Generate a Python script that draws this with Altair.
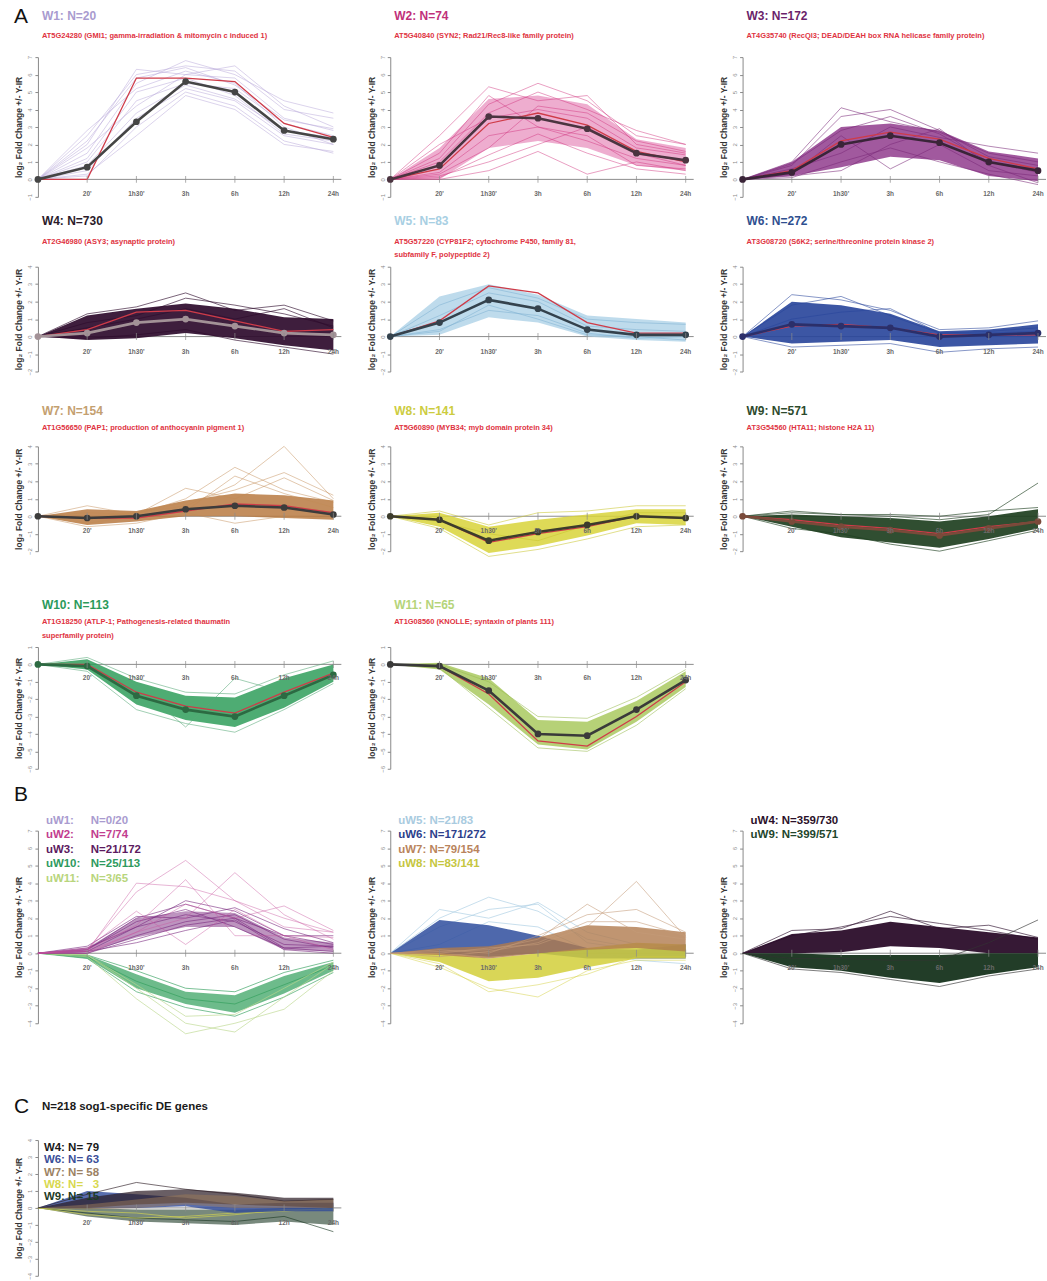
import altair as alt
import pandas as pd

TIMES = ["0", "20'", "1h30'", "3h", "6h", "12h", "24h"]
TICK_LABELS = ["20'", "1h30'", "3h", "6h", "12h", "24h"]
YTITLE = "log\u2082 Fold Change +/- Y-IR"

# ---------------- Panel A data (log2 fold change at each time point) ----------------
W1_MEAN = [0, 0.7, 3.3, 5.6, 5.0, 2.8, 2.3]
W1_GENE = [0, 0.0, 5.8, 5.8, 5.6, 3.2, 2.4]
W1_LINES = [
    [0, 2.5, 6.0, 6.5, 6.2, 4.0, 3.5],
    [0, 2.0, 6.3, 6.0, 5.8, 3.5, 2.8],
    [0, 1.5, 5.5, 6.8, 6.0, 4.5, 3.8],
    [0, 1.0, 4.5, 5.5, 5.2, 3.2, 2.5],
    [0, 0.5, 3.5, 5.2, 4.5, 2.5, 2.0],
    [0, 0.2, 3.0, 5.0, 4.2, 2.2, 1.5],
    [0, 1.2, 5.0, 5.8, 4.8, 2.6, 2.2],
    [0, 2.8, 5.2, 6.2, 5.5, 3.0, 2.0],
    [0, 0.3, 2.5, 4.8, 4.0, 2.0, 1.6],
    [0, 1.8, 4.2, 6.0, 6.5, 4.2, 3.0],
    [0, 0.8, 3.8, 5.4, 4.6, 2.8, 2.4],
    [0, 2.2, 5.8, 6.4, 5.4, 3.4, 2.9],
]

W2_MEAN = [0, 0.8, 3.6, 3.5, 2.9, 1.5, 1.1]
W2_GENE = [0, 0.6, 3.2, 3.8, 3.1, 1.6, 1.0]
W2_LO = [0, 0.0, 1.8, 2.2, 1.8, 0.8, 0.5]
W2_HI = [0, 1.8, 4.6, 4.8, 4.3, 2.3, 1.8]
W2_LINES = [
    [0, 2.5, 5.3, 4.5, 4.8, 2.0, 1.5],
    [0, 1.2, 4.3, 5.5, 4.5, 2.5, 2.0],
    [0, 0.2, 1.0, 2.0, 3.0, 1.5, 0.8],
    [0, 0.0, 0.5, 1.6, 0.3, 1.0, 0.5],
    [0, 0.3, 1.8, 4.2, 3.8, 2.2, 1.6],
    [0, 1.5, 4.8, 3.0, 2.2, 1.2, 0.8],
    [0, 0.4, 2.5, 3.0, 2.5, 0.8, 0.6],
    [0, 2.0, 3.5, 4.0, 3.5, 1.8, 1.4],
    [0, 0.1, 1.4, 2.6, 1.5, 0.6, 0.3],
    [0, 1.0, 3.8, 5.0, 4.0, 2.8, 2.0],
]

W3_MEAN = [0, 0.4, 2.0, 2.5, 2.1, 1.0, 0.5]
W3_GENE = [0, 0.5, 2.2, 2.7, 2.3, 1.2, 0.6]
W3_LO = [0, 0.2, 0.7, 1.3, 1.1, 0.2, -0.1]
W3_HI = [0, 1.0, 3.0, 3.2, 2.8, 1.6, 1.2]
W3_LINES = [
    [0, 1.0, 4.1, 3.3, 2.7, 1.5, 1.0],
    [0, 0.8, 3.6, 4.0, 2.8, 1.3, 0.8],
    [0, 0.3, 2.5, 0.6, 2.0, 0.5, 0.2],
    [0, 0.2, 0.5, 2.0, 2.9, 0.8, -0.2],
    [0, 0.6, 1.5, 3.0, 2.4, 1.9, 1.5],
    [0, 0.1, 1.0, 1.8, 1.0, 0.3, -0.3],
    [0, 0.9, 2.8, 3.6, 2.6, 1.0, 0.4],
]

W4_MEAN = [0, 0.2, 0.8, 1.0, 0.6, 0.2, 0.1]
W4_GENE = [0, 0.4, 1.4, 1.5, 0.9, 0.3, 0.4]
W4_LO = [0, -0.2, -0.1, 0.2, -0.1, -0.5, -0.8]
W4_HI = [0, 1.2, 1.6, 1.9, 1.6, 1.1, 1.0]
W4_LINES = [
    [0, 1.3, 1.7, 2.5, 1.5, 1.8, 0.9],
    [0, 0.8, 1.2, 2.2, 1.8, 1.3, 0.6],
    [0, -0.1, 0.1, 0.4, -0.2, -0.6, -1.0],
    [0, 0.5, 1.0, 1.6, 1.0, 1.6, 0.5],
]

W5_MEAN = [0, 0.8, 2.1, 1.6, 0.4, 0.1, 0.1]
W5_GENE = [0, 0.9, 2.9, 2.5, 0.8, 0.2, 0.2]
W5_LO = [0, 0.1, 1.1, 0.8, 0.0, -0.2, -0.3]
W5_HI = [0, 2.3, 3.0, 2.4, 1.2, 1.0, 0.8]
W5_LINES = [
    [0, 1.8, 2.8, 2.2, 1.0, 0.8, 0.7],
    [0, 0.4, 1.5, 1.2, 0.2, -0.1, 0.0],
    [0, 1.2, 2.5, 2.0, 0.6, 0.4, 0.3],
    [0, 0.3, 1.8, 1.0, 0.1, 0.0, -0.2],
]

W6_MEAN = [0, 0.7, 0.6, 0.5, 0.0, 0.1, 0.2]
W6_GENE = [0, 0.6, 0.7, 0.5, 0.1, 0.1, 0.1]
W6_LO = [0, -0.4, -0.3, -0.2, -0.6, -0.5, -0.4]
W6_HI = [0, 2.0, 1.8, 1.3, 0.3, 0.4, 0.7]
W6_LINES = [
    [0, 2.4, 2.1, 1.5, 0.4, 0.5, 0.9],
    [0, 1.8, 2.3, 1.2, 0.2, 0.3, 0.5],
    [0, -0.6, -0.5, -0.4, -0.9, -0.7, -0.6],
    [0, 1.0, 1.4, 1.6, 0.2, 0.2, 0.3],
]

W7_MEAN = [0, -0.1, 0.0, 0.4, 0.6, 0.5, 0.1]
W7_GENE = [0, -0.1, -0.1, 0.3, 0.7, 0.6, 0.2]
W7_LO = [0, -0.5, -0.3, 0.0, 0.0, -0.1, -0.2]
W7_HI = [0, 0.4, 0.3, 0.9, 1.3, 1.2, 0.9]
W7_LINES = [
    [0, 0.2, 0.1, 1.0, 2.8, 1.5, 0.8],
    [0, -0.1, 0.2, 0.6, 1.8, 4.0, 1.0],
    [0, 0.6, 0.1, 1.6, 1.0, 2.2, 0.9],
    [0, -0.4, 0.0, 0.3, 2.3, 1.3, 0.5],
    [0, -0.6, -0.4, 0.2, -0.4, 0.0, -0.1],
    [0, 0.0, 0.2, 0.8, 1.5, 2.5, 1.2],
]

W8_MEAN = [0, -0.2, -1.4, -0.9, -0.5, 0.0, -0.1]
W8_GENE = [0, -0.2, -1.5, -1.0, -0.6, 0.0, -0.1]
W8_LO = [0, -0.6, -2.1, -1.7, -1.1, -0.4, -0.5]
W8_HI = [0, 0.2, -0.6, -0.2, 0.1, 0.4, 0.4]
W8_LINES = [
    [0, 0.3, -0.5, 0.2, 0.3, 0.6, 0.6],
    [0, -0.7, -2.3, -1.9, -1.3, -0.6, -0.5],
    [0, -0.3, -1.0, -1.4, -0.5, 0.2, 0.2],
]

W9_MEAN = [0, -0.3, -0.6, -0.8, -1.1, -0.7, -0.3]
W9_GENE = [0, -0.2, -0.5, -0.7, -1.0, -0.6, -0.3]
W9_LO = [0, -0.6, -1.2, -1.5, -1.8, -1.3, -0.7]
W9_HI = [0, 0.1, 0.0, -0.1, -0.3, 0.0, 0.4]
W9_LINES = [
    [0, 0.3, 0.1, 0.0, -0.2, 0.1, 1.9],
    [0, -0.7, -1.0, -1.6, -2.0, -1.4, -0.8],
    [0, 0.2, 0.1, 0.1, 0.0, 0.3, 0.5],
]

W10_MEAN = [0, -0.1, -1.8, -2.6, -3.0, -1.8, -0.6]
W10_GENE = [0, 0.0, -1.6, -2.4, -2.8, -1.6, -0.5]
W10_LO = [0, -0.3, -2.3, -3.2, -3.6, -2.5, -1.0]
W10_HI = [0, 0.3, -1.0, -1.8, -1.9, -0.8, 0.0]
W10_LINES = [
    [0, 0.0, -1.2, -3.6, -0.8, -1.6, -0.4],
    [0, 0.4, -0.8, -1.6, -1.7, -0.6, 0.2],
    [0, -0.4, -2.6, -3.4, -3.9, -2.6, -1.1],
]

W11_MEAN = [0, -0.1, -1.5, -4.0, -4.1, -2.6, -0.9]
W11_GENE = [0, -0.1, -1.7, -4.4, -4.7, -3.0, -1.0]
W11_LO = [0, -0.3, -2.3, -4.6, -4.9, -3.3, -1.3]
W11_HI = [0, 0.1, -0.8, -3.2, -3.3, -2.1, -0.4]
W11_LINES = [
    [0, 0.0, -1.0, -3.0, -3.1, -1.9, -0.3],
    [0, -0.2, -2.5, -4.8, -5.0, -3.5, -1.4],
]

# ---------------- Panel B data ----------------
UW2_LINES = [
    [0, 0.2, 3.5, 5.3, 3.0, 2.0, 1.2],
    [0, 0.0, 1.2, 2.0, 4.6, 2.2, 0.8],
    [0, 0.1, 4.0, 3.8, 3.0, 1.5, 1.2],
    [0, 0.3, 2.4, 0.5, 2.5, 1.0, 0.2],
    [0, 0.1, 1.2, 2.8, 2.0, 2.7, 1.3],
    [0, 0.2, 1.6, 4.2, 1.0, 1.0, 0.9],
]
UW3_LO = [0, 0.05, 0.9, 1.5, 1.5, 0.2, 0.1]
UW3_HI = [0, 0.3, 2.0, 2.4, 2.3, 0.9, 0.6]
UW3_LINES = [
    [0, 0.3, 1.5, 3.0, 2.4, 1.0, 1.0],
    [0, 0.2, 2.0, 2.8, 2.0, 0.3, 0.4],
    [0, 0.0, 1.0, 1.8, 2.2, 0.8, 0.3],
    [0, 0.1, 1.5, 2.2, 1.8, 0.5, 0.4],
    [0, 0.0, 0.8, 1.6, 2.0, 1.0, 0.5],
    [0, 0.2, 1.8, 2.5, 1.5, 0.3, 0.1],
    [0, 0.4, 2.1, 2.0, 2.6, 1.4, 0.6],
    [0, 0.1, 0.6, 1.3, 1.9, 0.2, 0.0],
]
UW10_LO = [0, -0.3, -2.0, -2.9, -3.4, -2.3, -1.0]
UW10_HI = [0, -0.1, -1.2, -2.2, -2.4, -1.3, -0.5]
UW10_LINES = [
    [0, -0.1, -1.0, -2.0, -2.2, -1.1, -0.4],
    [0, -0.3, -2.2, -3.1, -3.6, -2.5, -1.1],
    [0, -0.2, -1.6, -2.6, -2.9, -1.8, -0.7],
]
UW11_LINES = [
    [0, -0.1, -2.0, -4.0, -4.5, -2.5, -0.6],
    [0, -0.1, -1.8, -3.6, -3.5, -2.0, -0.5],
    [0, -0.2, -2.6, -4.6, -4.0, -3.2, -1.0],
]

UW5_LINES = [
    [0, 2.5, 2.0, 2.9, 1.2, 0.5, 0.4],
    [0, 2.0, 3.2, 2.4, 0.8, 0.3, 0.2],
    [0, 1.5, 2.5, 2.8, 0.6, 0.2, 0.5],
    [0, 0.5, 1.8, 1.5, 0.2, -0.4, -0.6],
]
UW6_LO = [0, 0.0, -0.2, 0.0, -0.3, -0.3, -0.3]
UW6_HI = [0, 1.9, 1.6, 1.0, 0.3, 0.2, 0.5]
UW7_LO = [0, -0.1, -0.3, 0.0, 0.2, 0.3, 0.1]
UW7_HI = [0, 0.3, 0.4, 0.9, 1.6, 1.5, 1.2]
UW7_LINES = [
    [0, 0.1, 0.2, 0.8, 2.8, 1.2, 0.8],
    [0, 0.0, 0.3, 0.5, 1.5, 4.1, 0.9],
    [0, 0.2, 0.0, 1.0, 2.2, 2.5, 1.2],
    [0, -0.2, 0.1, 0.6, 1.8, 1.8, 1.0],
]
UW8_LO = [0, -0.5, -1.6, -1.4, -0.8, -0.3, -0.3]
UW8_HI = [0, 0.0, -0.3, 0.0, 0.3, 0.6, 0.5]
UW8_LINES = [
    [0, -0.8, -2.0, -2.5, -1.0, -0.4, -0.4],
    [0, -0.6, -2.2, -1.8, -1.2, -0.2, -0.2],
]

UW4_LO = [0, 0.0, 0.05, 0.4, 0.3, 0.0, 0.0]
UW4_HI = [0, 1.1, 1.3, 1.8, 1.5, 1.2, 0.9]
UW4_LINES = [
    [0, 1.3, 1.4, 2.4, 1.4, 1.6, 0.9],
    [0, 1.0, 1.5, 2.1, 1.7, 1.3, 0.8],
]
UW9_LO = [0, -0.8, -1.0, -1.4, -1.7, -1.2, -0.8]
UW9_HI = [0, 0.0, -0.1, -0.1, -0.1, 0.0, 0.0]
UW9_LINES = [
    [0, -0.9, -1.1, -1.5, -1.9, -1.3, -0.9],
    [0, -0.3, -0.3, -0.4, -0.4, 0.6, 1.9],
]

# ---------------- Panel C data ----------------
C6_LO = [0, 0.0, 0.0, 0.1, -0.3, -0.2, -0.2]
C6_HI = [0, 1.0, 0.8, 0.6, 0.2, 0.3, 0.3]
C4_LO = [0, 0.0, 0.2, 0.3, 0.2, 0.1, 0.0]
C4_HI = [0, 0.6, 1.0, 1.1, 0.9, 0.6, 0.6]
C4_LINES = [[0, 0.8, 1.5, 1.1, 0.8, 0.4, 0.5]]
C7_LO = [0, -0.1, 0.0, 0.2, 0.0, 0.0, 0.0]
C7_HI = [0, 0.2, 0.5, 0.8, 0.7, 0.4, 0.5]
C8_LINES = [
    [0, -0.4, -0.6, -0.5, -0.3, -0.2, 0.0],
    [0, -0.2, -0.3, -0.6, -0.4, -0.1, -0.1],
]
C9_LO = [0, -0.5, -0.8, -0.9, -1.0, -0.8, -1.0]
C9_HI = [0, 0.0, -0.1, -0.1, -0.1, 0.0, 0.0]
C9_LINES = [[0, -0.3, -0.6, -0.7, -0.8, -0.5, -1.4]]

RED = "#cf3b48"
GENE_RED = "#e0333f"
PW = 296
ONE = pd.DataFrame({"a": [0]})


def lines_frame(lines):
    rows = []
    for i, vals in enumerate(lines):
        for t, v in zip(TIMES, vals):
            rows.append({"t": t, "v": v, "id": "l%d" % i})
    return pd.DataFrame(rows)


def band_frame(lo, hi):
    return pd.DataFrame({"t": TIMES, "lo": lo, "hi": hi})


def xenc():
    return alt.X("t:N", scale=alt.Scale(type="point", domain=TIMES, padding=0), axis=None)


def yenc(field, domain):
    return alt.Y(
        field + ":Q",
        scale=alt.Scale(domain=domain, nice=False, zero=False),
        axis=alt.Axis(
            values=list(range(domain[0], domain[1] + 1)),
            labelAngle=270, labelAlign="center", labelBaseline="bottom",
            labelFontSize=6, labelColor="#8a8a8a", labelPadding=2, labelFlush=False,
            tickSize=3, tickColor="#8a8a8a", domainColor="#8a8a8a", grid=False,
            title=YTITLE, titleFontSize=8.5, titleFontWeight="bold",
            titleColor="#333333", titlePadding=3,
        ),
    )


def txt(text, x, y, size, color, weight="bold", baseline="middle"):
    return alt.Chart(ONE).mark_text(
        text=text, align="left", baseline=baseline, fontSize=size,
        fontWeight=weight, color=color).encode(x=alt.value(x), y=alt.value(y))


def panel(domain, height, groups, mean=None, gene=None, mean_color="#3b3b3b",
          title=None, subtitle=None, title_color="#000000", title_y=-41, sub_y=-21,
          title_fs=12, legend=None, legend_x=8, legend_y=-10, legend_step=14.5,
          legend_fs=11.5, value_x=None, letter=None, letter_y=-34, tick_dy=15):
    X = xenc()
    layers = [
        alt.Chart(pd.DataFrame({"v": [0]})).mark_rule(color="#8c8c8c", strokeWidth=1).encode(
            x=alt.value(0), x2=alt.value(PW + 8), y=yenc("v", domain))
    ]
    for g in groups:
        if "lo" in g:
            layers.append(
                alt.Chart(band_frame(g["lo"], g["hi"])).mark_area(
                    color=g["color"], opacity=g.get("band_op", 0.8)).encode(
                    x=X, y=yenc("lo", domain), y2=alt.Y2("hi:Q")))
        if "lines" in g:
            layers.append(
                alt.Chart(lines_frame(g["lines"])).mark_line(
                    color=g.get("line_color", g["color"]), strokeWidth=g.get("lw", 0.8),
                    opacity=g.get("op", 0.7)).encode(
                    x=X, y=yenc("v", domain), detail="id:N"))
    if gene is not None:
        layers.append(alt.Chart(lines_frame([gene])).mark_line(color=RED, strokeWidth=1.3).encode(
            x=X, y=yenc("v", domain)))
    if mean is not None:
        mdf = lines_frame([mean])
        layers.append(alt.Chart(mdf).mark_line(color=mean_color, strokeWidth=2.6).encode(
            x=X, y=yenc("v", domain)))
        layers.append(alt.Chart(mdf).mark_circle(color=mean_color, size=45, opacity=1).encode(
            x=X, y=yenc("v", domain)))
    tdf = pd.DataFrame({"t": TICK_LABELS, "v": [0] * len(TICK_LABELS)})
    layers.append(alt.Chart(tdf).mark_tick(orient="vertical", size=7, thickness=1, color="#8c8c8c").encode(
        x=X, y=yenc("v", domain)))
    layers.append(alt.Chart(tdf).mark_text(dy=tick_dy, fontSize=6.5, fontWeight="bold", color="#6a6a6a").encode(
        x=X, y=yenc("v", domain), text="t:N"))
    if legend:
        for i, entry in enumerate(legend):
            yy = legend_y + i * legend_step
            if value_x is not None:
                lab, val, col = entry
                layers.append(txt(lab, legend_x, yy, legend_fs, col))
                layers.append(txt(val, value_x, yy, legend_fs, col))
            else:
                lab, col = entry
                layers.append(txt(lab, legend_x, yy, legend_fs, col))
    if title is not None:
        layers.append(txt(title, 4, title_y, title_fs, title_color))
    if subtitle:
        for i, s in enumerate(subtitle):
            layers.append(txt(s, 4, sub_y + i * 13.5, 7.5, GENE_RED))
    if letter:
        layers.append(txt(letter, -24, letter_y, 21, "#111111", weight="normal", baseline="alphabetic"))
    return alt.layer(*layers).properties(width=PW, height=height)


D1, H1 = [-1, 7], 140
D2, H2 = [-2, 4], 105
D3, H3 = [-2, 4], 105
D4, H4 = [-6, 1], 122
DB, HB = [-4, 7], 193
DC, HC = [-4, 4], 136

R1 = dict(title_y=-41, sub_y=-21)
R2 = dict(title_y=-46, sub_y=-25)
R3 = dict(title_y=-35, sub_y=-18)
R4 = dict(title_y=-42, sub_y=-25, tick_dy=14)

w1 = panel(D1, H1, [dict(color="#b4a3d6", lines=W1_LINES, op=0.6)], W1_MEAN, W1_GENE, "#454545",
           "W1: N=20", ["AT5G24280 (GMI1; gamma-irradiation & mitomycin c induced 1)"], "#a99bcf",
           letter="A", letter_y=-34, **R1)
w2 = panel(D1, H1, [dict(color="#e06aa8", lo=W2_LO, hi=W2_HI, band_op=0.55, lines=W2_LINES, line_color="#d1357f", op=0.6)],
           W2_MEAN, W2_GENE, "#4b3440",
           "W2: N=74", ["AT5G40840 (SYN2; Rad21/Rec8-like family protein)"], "#c0307a", **R1)
w3 = panel(D1, H1, [dict(color="#8a2f86", lo=W3_LO, hi=W3_HI, band_op=0.8, lines=W3_LINES, line_color="#7a2a78", op=0.7)],
           W3_MEAN, W3_GENE, "#3a2438",
           "W3: N=172", ["AT4G35740 (RecQl3; DEAD/DEAH box RNA helicase family protein)"], "#6b1f6b", **R1)

w4 = panel(D2, H2, [dict(color="#2e0b2c", lo=W4_LO, hi=W4_HI, band_op=0.92, lines=W4_LINES, op=0.8)],
           W4_MEAN, W4_GENE, "#a39297",
           "W4: N=730", ["AT2G46980 (ASY3; asynaptic protein)"], "#2a1a2a", **R2)
w5 = panel(D2, H2, [dict(color="#a8cfe5", lo=W5_LO, hi=W5_HI, band_op=0.75, lines=W5_LINES, line_color="#7fb2d3", op=0.7)],
           W5_MEAN, W5_GENE, "#34424d",
           "W5: N=83", ["AT5G57220 (CYP81F2; cytochrome P450, family 81,", "subfamily F, polypeptide 2)"],
           "#a8cfe3", **R2)
w6 = panel(D2, H2, [dict(color="#27449a", lo=W6_LO, hi=W6_HI, band_op=0.9, lines=W6_LINES, op=0.7)],
           W6_MEAN, W6_GENE, "#2b2f6a",
           "W6: N=272", ["AT3G08720 (S6K2; serine/threonine protein kinase 2)"], "#2f4f8f", **R2)

w7 = panel(D3, H3, [dict(color="#b97a42", lo=W7_LO, hi=W7_HI, band_op=0.85, lines=W7_LINES, line_color="#c28b55", op=0.6)],
           W7_MEAN, W7_GENE, "#3c3c3c",
           "W7: N=154", ["AT1G56650 (PAP1; production of anthocyanin pigment 1)"], "#c4a070", **R3)
w8 = panel(D3, H3, [dict(color="#d8d43a", lo=W8_LO, hi=W8_HI, band_op=0.85, lines=W8_LINES, line_color="#c9c530", op=0.7)],
           W8_MEAN, W8_GENE, "#3c3c2c",
           "W8: N=141", ["AT5G60890 (MYB34; myb domain protein 34)"], "#cccc40", **R3)
w9 = panel(D3, H3, [dict(color="#1e3f20", lo=W9_LO, hi=W9_HI, band_op=0.92, lines=W9_LINES, op=0.8)],
           W9_MEAN, W9_GENE, "#7a4a3a",
           "W9: N=571", ["AT3G54560 (HTA11; histone H2A 11)"], "#2d4a2d", **R3)

w10 = panel(D4, H4, [dict(color="#2f9e5a", lo=W10_LO, hi=W10_HI, band_op=0.85, lines=W10_LINES, line_color="#58a878", op=0.7)],
            W10_MEAN, W10_GENE, "#2c6a42",
            "W10: N=113", ["AT1G18250 (ATLP-1; Pathogenesis-related thaumatin", "superfamily protein)"],
            "#2a9a5a", **R4)
w11 = panel(D4, H4, [dict(color="#a9c95f", lo=W11_LO, hi=W11_HI, band_op=0.85, lines=W11_LINES, line_color="#98ba50", op=0.7)],
            W11_MEAN, W11_GENE, "#3a3a3a",
            "W11: N=65", ["AT1G08560 (KNOLLE; syntaxin of plants 111)"], "#b5d47a", **R4)

b1 = panel(DB, HB, [
    dict(color="#2f9e5a", lo=UW10_LO, hi=UW10_HI, band_op=0.7, lines=UW10_LINES, op=0.8),
    dict(color="#bcd88e", lines=UW11_LINES, op=0.8),
    dict(color="#7b2a80", lo=UW3_LO, hi=UW3_HI, band_op=0.5, lines=UW3_LINES, op=0.75),
    dict(color="#c9559f", lines=UW2_LINES, op=0.55),
], legend=[("uW1:", "N=0/20", "#a99bcf"), ("uW2:", "N=7/74", "#c23d8f"),
           ("uW3:", "N=21/172", "#5c1a60"), ("uW10:", "N=25/113", "#2e9a5e"),
           ("uW11:", "N=3/65", "#b8d57c")],
   value_x=53, letter="B", letter_y=-30)
b2 = panel(DB, HB, [
    dict(color="#a9cde3", lines=UW5_LINES, op=0.8),
    dict(color="#2f4e9e", lo=UW6_LO, hi=UW6_HI, band_op=0.85),
    dict(color="#d2cf3a", lo=UW8_LO, hi=UW8_HI, band_op=0.85, lines=UW8_LINES, op=0.6),
    dict(color="#b07a4e", lo=UW7_LO, hi=UW7_HI, band_op=0.8, lines=UW7_LINES, line_color="#c49a78", op=0.7),
], legend=[("uW5: N=21/83", "#a9cbe0"), ("uW6: N=171/272", "#2c3f8c"),
           ("uW7: N=79/154", "#b9845c"), ("uW8: N=83/141", "#c5c640")])
b3 = panel(DB, HB, [
    dict(color="#2b0d2a", lo=UW4_LO, hi=UW4_HI, band_op=0.95, lines=UW4_LINES, op=0.8),
    dict(color="#16331c", lo=UW9_LO, hi=UW9_HI, band_op=0.95, lines=UW9_LINES, line_color="#333333", op=0.8),
], legend=[("uW4: N=359/730", "#2b1029"), ("uW9: N=399/571", "#22452b")])

c1 = panel(DC, HC, [
    dict(color="#1e3b26", lo=C9_LO, hi=C9_HI, band_op=0.6, lines=C9_LINES, op=0.8),
    dict(color="#d8d84e", lines=C8_LINES, op=0.8),
    dict(color="#2f4a9a", lo=C6_LO, hi=C6_HI, band_op=0.8),
    dict(color="#2a1a22", lo=C4_LO, hi=C4_HI, band_op=0.7, lines=C4_LINES, op=0.8),
    dict(color="#9c7a58", lo=C7_LO, hi=C7_HI, band_op=0.5),
], title="N=218 sog1-specific DE genes", title_color="#1a1a1a", title_y=-33, title_fs=11.5,
   legend=[("W4: N=\u00a079", "#1a1a1a"), ("W6: N=\u00a063", "#3b4f99"), ("W7: N=\u00a058", "#9c8263"),
           ("W8: N=\u00a0\u00a0\u00a03", "#d8d84e"), ("W9: N=\u00a015", "#1e3b26")],
   legend_x=6, legend_y=8, legend_step=12.3, letter="C", letter_y=-27)

HS = 25
r1 = alt.hconcat(w1, w2, w3, spacing=HS)
r2 = alt.hconcat(w4, w5, w6, spacing=HS)
r3 = alt.hconcat(w7, w8, w9, spacing=HS)
r4 = alt.hconcat(w10, w11, spacing=HS)
rb = alt.hconcat(b1, b2, b3, spacing=HS)

top = alt.vconcat(r1, r2, spacing=14)
top = alt.vconcat(top, r3, spacing=30)
top = alt.vconcat(top, r4, spacing=41)
top = alt.vconcat(top, rb, spacing=11)
top = alt.vconcat(top, c1, spacing=60)

chart = top.properties(
    padding={"left": 14, "top": 5, "right": 0, "bottom": 0},
    background="white",
).configure(font="Liberation Sans").configure_view(stroke=None)

chart.save("out.html", embed_options={"renderer": "svg", "actions": False})
